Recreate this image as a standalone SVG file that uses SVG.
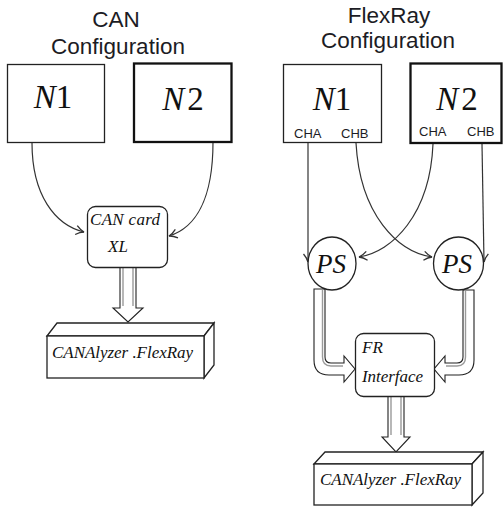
<svg xmlns="http://www.w3.org/2000/svg" width="504" height="508" viewBox="0 0 504 508">
<style>
.title{font-family:"Liberation Sans",Arial,sans-serif;font-size:22.5px;fill:#1c1c24;text-anchor:middle}
.ch{font-family:"Liberation Sans",Arial,sans-serif;font-size:13px;fill:#1c1c24}
.big{font-family:"Liberation Serif","Times New Roman",serif;font-size:33px;fill:#111;text-anchor:middle}
.it{font-style:italic}
.lbl{font-family:"Liberation Serif","Times New Roman",serif;font-style:italic;font-size:17px;fill:#111}
.ps{font-family:"Liberation Serif","Times New Roman",serif;font-style:italic;font-size:27px;fill:#111;text-anchor:middle}
.box{fill:#fff;stroke:#222;stroke-width:1.3}
.thick{fill:#fff;stroke:#111;stroke-width:2.3}
.wire{fill:none;stroke:#333;stroke-width:1.2}
.block{fill:#fff;stroke:#222;stroke-width:1.1}
.shade{fill:none;stroke:#9a9a9a;stroke-width:1.4}
</style>
<defs>
<marker id="arr" markerUnits="userSpaceOnUse" markerWidth="12" markerHeight="12" viewBox="-10 -6 12 12" refX="0" refY="0" orient="auto">
<path d="M-8,-4.5 Q-4,-1 0,0 Q-4,1 -8,4.5" fill="none" stroke="#333" stroke-width="1.3"/>
</marker>
</defs>

<text class="title" x="116" y="27">CAN</text>
<text class="title" x="118" y="54">Configuration</text>
<text class="title" x="389" y="23">FlexRay</text>
<text class="title" x="388" y="48">Configuration</text>

<g id="connectors">
<path class="wire" d="M32,143 C32,195 55,225 84,232" marker-end="url(#arr)"/>
<path class="wire" d="M213,142 C213,200 195,228 169,236" marker-end="url(#arr)"/>
<path class="wire" d="M308,143 L308,262" marker-end="url(#arr)"/>
<path class="wire" d="M482,144 L484,262" marker-end="url(#arr)"/>
<path class="wire" d="M356,143 C360,215 398,252 432,257" marker-end="url(#arr)"/>
<path class="wire" d="M433,144 C430,215 392,252 359,257" marker-end="url(#arr)"/>
<g id="can-down">
<path class="block" d="M120,267 L120,308 L113,308 L128,322 L143,308 L136,308 L136,267 Z"/>
<path class="shade" d="M123,268 L123,306 M133,268 L133,306"/>
</g>
<g id="fr-down">
<path class="block" d="M388,396 L388,437 L382,437 L396,452 L410,437 L404,437 L404,396 Z"/>
<path class="shade" d="M391,397 L391,435 M401,397 L401,435"/>
</g>
<g id="ps1-fr">
<path class="block" d="M314,289 L314,360 Q314,375 329,375 L344,375 L344,382 L355,369 L344,356 L344,363 L331,363 Q325,363 325,357 L325,289 Z"/>
<path class="shade" d="M322.5,290 L322.5,357 Q322.5,366 331,366 L343,366"/>
</g>
<g id="ps2-fr">
<path class="block" d="M463,290 L463,357 Q463,363 457,363 L445,363 L445,356 L434,369 L445,382 L445,375 L459,375 Q474,375 474,360 L474,290 Z"/>
<path class="shade" d="M465.5,291 L465.5,357 Q465.5,366 457,366 L446,366"/>
</g>
</g>

<g id="can-n1">
<rect class="box" x="7.5" y="64.5" width="97" height="78"/>
<text class="big" x="53" y="108"><tspan class="it">N</tspan>1</text>
</g>
<g id="can-n2">
<rect class="thick" x="134" y="63.5" width="97.5" height="78.5"/>
<text class="big" x="183" y="110"><tspan class="it">N</tspan><tspan dx="3">2</tspan></text>
</g>
<g id="can-card">
<rect class="box" x="87.5" y="206.5" width="80" height="61" rx="8"/>
<text class="lbl" x="90" y="225" textLength="70">CAN card</text>
<text class="lbl" x="108" y="252">XL</text>
</g>
<g id="can-analyzer">
<path class="box" d="M47,336 L57,323 L214,323 L204,336 Z"/>
<path class="box" d="M204,336 L214,323 L214,365 L204,378 Z"/>
<rect class="box" x="47" y="336" width="157" height="42"/>
<text class="lbl" x="52" y="358" textLength="141">CANAlyzer .FlexRay</text>
</g>

<g id="fr-n1">
<rect class="box" x="283.5" y="64.5" width="98" height="78"/>
<text class="big" x="332" y="110"><tspan class="it">N</tspan>1</text>
<text class="ch" x="294" y="138">CHA</text>
<text class="ch" x="341" y="138">CHB</text>
</g>
<g id="fr-n2">
<rect class="thick" x="410.5" y="63.5" width="91" height="79.5"/>
<text class="big" x="457" y="110"><tspan class="it">N</tspan><tspan dx="3">2</tspan></text>
<text class="ch" x="419" y="136">CHA</text>
<text class="ch" x="467" y="136">CHB</text>
</g>
<g id="ps1">
<ellipse class="box" cx="332" cy="263.5" rx="24" ry="26.5"/>
<text class="ps" x="331" y="273">PS</text>
</g>
<g id="ps2">
<ellipse class="box" cx="458.5" cy="263.5" rx="25" ry="26.5"/>
<text class="ps" x="457" y="273">PS</text>
</g>
<g id="fr-interface">
<rect class="box" x="355.5" y="333.5" width="79" height="63" rx="8"/>
<text class="lbl" x="362" y="353">FR</text>
<text class="lbl" x="362" y="382" textLength="61">Interface</text>
</g>
<g id="fr-analyzer">
<path class="box" d="M314,464 L325,452 L483,452 L472,464 Z"/>
<path class="box" d="M472,464 L483,452 L483,493 L472,505 Z"/>
<rect class="box" x="314" y="464" width="158" height="41"/>
<text class="lbl" x="320" y="485" textLength="141">CANAlyzer .FlexRay</text>
</g>
</svg>
